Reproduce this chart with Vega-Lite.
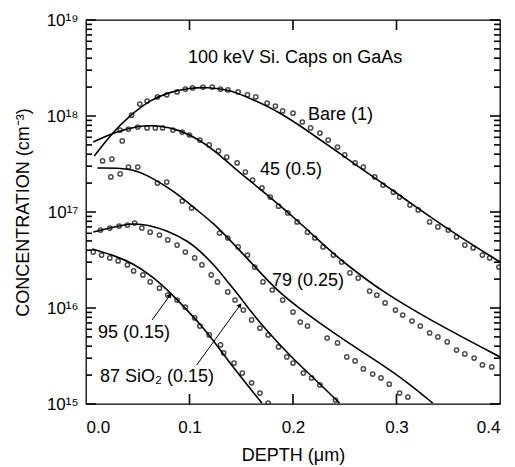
{
  "$schema": "https://vega.github.io/schema/vega-lite/v6.json",
  "width": 414,
  "height": 384,
  "autosize": {"type": "none"},
  "padding": {"left": 86, "top": 20, "right": 15, "bottom": 63},
  "background": "white",
  "config": {
    "view": {"stroke": "black", "strokeWidth": 1.3},
    "font": "Liberation Sans",
    "axis": {
      "grid": false,
      "ticks": false,
      "domain": false,
      "labelFont": "Liberation Sans",
      "labelFontSize": 17,
      "labelColor": "black",
      "titleFont": "Liberation Sans",
      "titleFontSize": 18,
      "titleFontWeight": "normal",
      "titleColor": "black"
    }
  },
  "datasets": {
    "fits": [
      {"sample": "Bare", "depth": 0.008, "conc": 3.83e17},
      {"sample": "Bare", "depth": 0.026, "conc": 6.8e17},
      {"sample": "Bare", "depth": 0.043, "conc": 1.02e18},
      {"sample": "Bare", "depth": 0.062, "conc": 1.47e18},
      {"sample": "Bare", "depth": 0.081, "conc": 1.78e18},
      {"sample": "Bare", "depth": 0.100, "conc": 1.96e18},
      {"sample": "Bare", "depth": 0.117, "conc": 2.0e18},
      {"sample": "Bare", "depth": 0.139, "conc": 1.87e18},
      {"sample": "Bare", "depth": 0.158, "conc": 1.54e18},
      {"sample": "Bare", "depth": 0.187, "conc": 1.10e18},
      {"sample": "Bare", "depth": 0.216, "conc": 6.8e17},
      {"sample": "Bare", "depth": 0.265, "conc": 2.87e17},
      {"sample": "Bare", "depth": 0.303, "conc": 1.50e17},
      {"sample": "Bare", "depth": 0.349, "conc": 6.65e16},
      {"sample": "Bare", "depth": 0.400, "conc": 3.01e16},
      {"sample": "45", "depth": 0.007, "conc": 5.36e17},
      {"sample": "45", "depth": 0.026, "conc": 6.65e17},
      {"sample": "45", "depth": 0.049, "conc": 7.87e17},
      {"sample": "45", "depth": 0.069, "conc": 8.05e17},
      {"sample": "45", "depth": 0.091, "conc": 7.14e17},
      {"sample": "45", "depth": 0.110, "conc": 5.62e17},
      {"sample": "45", "depth": 0.127, "conc": 4.12e17},
      {"sample": "45", "depth": 0.142, "conc": 2.94e17},
      {"sample": "45", "depth": 0.168, "conc": 1.74e17},
      {"sample": "45", "depth": 0.204, "conc": 8.26e16},
      {"sample": "45", "depth": 0.236, "conc": 3.90e16},
      {"sample": "45", "depth": 0.255, "conc": 2.67e16},
      {"sample": "45", "depth": 0.284, "conc": 1.54e16},
      {"sample": "45", "depth": 0.332, "conc": 7.5e15},
      {"sample": "45", "depth": 0.400, "conc": 3.09e15},
      {"sample": "79", "depth": 0.011, "conc": 2.87e17},
      {"sample": "79", "depth": 0.043, "conc": 2.87e17},
      {"sample": "79", "depth": 0.059, "conc": 2.43e17},
      {"sample": "79", "depth": 0.084, "conc": 1.69e17},
      {"sample": "79", "depth": 0.107, "conc": 1.05e17},
      {"sample": "79", "depth": 0.123, "conc": 7.67e16},
      {"sample": "79", "depth": 0.139, "conc": 5.11e16},
      {"sample": "79", "depth": 0.158, "conc": 3.09e16},
      {"sample": "79", "depth": 0.175, "conc": 1.96e16},
      {"sample": "79", "depth": 0.190, "conc": 1.36e16},
      {"sample": "79", "depth": 0.207, "conc": 9.77e15},
      {"sample": "79", "depth": 0.223, "conc": 7.32e15},
      {"sample": "79", "depth": 0.255, "conc": 4.22e15},
      {"sample": "79", "depth": 0.284, "conc": 2.67e15},
      {"sample": "79", "depth": 0.313, "conc": 1.61e15},
      {"sample": "79", "depth": 0.335, "conc": 1.02e15},
      {"sample": "87", "depth": 0.007, "conc": 6.19e16},
      {"sample": "87", "depth": 0.026, "conc": 6.98e16},
      {"sample": "87", "depth": 0.047, "conc": 7.67e16},
      {"sample": "87", "depth": 0.059, "conc": 7.32e16},
      {"sample": "87", "depth": 0.078, "conc": 6.49e16},
      {"sample": "87", "depth": 0.100, "conc": 4.87e16},
      {"sample": "87", "depth": 0.110, "conc": 3.93e16},
      {"sample": "87", "depth": 0.123, "conc": 2.87e16},
      {"sample": "87", "depth": 0.137, "conc": 1.87e16},
      {"sample": "87", "depth": 0.149, "conc": 1.30e16},
      {"sample": "87", "depth": 0.158, "conc": 9.53e15},
      {"sample": "87", "depth": 0.175, "conc": 5.75e15},
      {"sample": "87", "depth": 0.200, "conc": 2.94e15},
      {"sample": "87", "depth": 0.223, "conc": 1.74e15},
      {"sample": "87", "depth": 0.245, "conc": 1.02e15},
      {"sample": "95", "depth": 0.006, "conc": 4.12e16},
      {"sample": "95", "depth": 0.026, "conc": 3.56e16},
      {"sample": "95", "depth": 0.045, "conc": 2.94e16},
      {"sample": "95", "depth": 0.065, "conc": 2.10e16},
      {"sample": "95", "depth": 0.084, "conc": 1.36e16},
      {"sample": "95", "depth": 0.103, "conc": 8.26e15},
      {"sample": "95", "depth": 0.110, "conc": 6.81e15},
      {"sample": "95", "depth": 0.125, "conc": 4.32e15},
      {"sample": "95", "depth": 0.139, "conc": 2.67e15},
      {"sample": "95", "depth": 0.170, "conc": 1.02e15}
    ],
    "measured": [
      {"sample": "Bare", "depth": 0.016, "conc": 3.40e17},
      {"sample": "Bare", "depth": 0.025, "conc": 3.56e17},
      {"sample": "Bare", "depth": 0.035, "conc": 5.50e17},
      {"sample": "Bare", "depth": 0.044, "conc": 1.02e18},
      {"sample": "Bare", "depth": 0.052, "conc": 1.33e18},
      {"sample": "Bare", "depth": 0.059, "conc": 1.43e18},
      {"sample": "Bare", "depth": 0.069, "conc": 1.58e18},
      {"sample": "Bare", "depth": 0.078, "conc": 1.66e18},
      {"sample": "Bare", "depth": 0.088, "conc": 1.78e18},
      {"sample": "Bare", "depth": 0.096, "conc": 1.91e18},
      {"sample": "Bare", "depth": 0.103, "conc": 1.96e18},
      {"sample": "Bare", "depth": 0.113, "conc": 2.00e18},
      {"sample": "Bare", "depth": 0.122, "conc": 2.00e18},
      {"sample": "Bare", "depth": 0.130, "conc": 1.91e18},
      {"sample": "Bare", "depth": 0.137, "conc": 1.87e18},
      {"sample": "Bare", "depth": 0.147, "conc": 1.78e18},
      {"sample": "Bare", "depth": 0.156, "conc": 1.66e18},
      {"sample": "Bare", "depth": 0.164, "conc": 1.58e18},
      {"sample": "Bare", "depth": 0.175, "conc": 1.36e18},
      {"sample": "Bare", "depth": 0.183, "conc": 1.27e18},
      {"sample": "Bare", "depth": 0.190, "conc": 1.13e18},
      {"sample": "Bare", "depth": 0.200, "conc": 1.07e18},
      {"sample": "Bare", "depth": 0.209, "conc": 8.66e17},
      {"sample": "Bare", "depth": 0.217, "conc": 7.50e17},
      {"sample": "Bare", "depth": 0.226, "conc": 6.65e17},
      {"sample": "Bare", "depth": 0.234, "conc": 5.62e17},
      {"sample": "Bare", "depth": 0.243, "conc": 4.75e17},
      {"sample": "Bare", "depth": 0.250, "conc": 3.93e17},
      {"sample": "Bare", "depth": 0.260, "conc": 3.24e17},
      {"sample": "Bare", "depth": 0.268, "conc": 2.94e17},
      {"sample": "Bare", "depth": 0.279, "conc": 2.32e17},
      {"sample": "Bare", "depth": 0.287, "conc": 1.91e17},
      {"sample": "Bare", "depth": 0.297, "conc": 1.61e17},
      {"sample": "Bare", "depth": 0.303, "conc": 1.43e17},
      {"sample": "Bare", "depth": 0.313, "conc": 1.18e17},
      {"sample": "Bare", "depth": 0.321, "conc": 1.05e17},
      {"sample": "Bare", "depth": 0.332, "conc": 7.87e16},
      {"sample": "Bare", "depth": 0.340, "conc": 6.98e16},
      {"sample": "Bare", "depth": 0.350, "conc": 6.49e16},
      {"sample": "Bare", "depth": 0.358, "conc": 5.50e16},
      {"sample": "Bare", "depth": 0.366, "conc": 4.53e16},
      {"sample": "Bare", "depth": 0.374, "conc": 4.22e16},
      {"sample": "Bare", "depth": 0.383, "conc": 3.56e16},
      {"sample": "Bare", "depth": 0.390, "conc": 3.32e16},
      {"sample": "Bare", "depth": 0.399, "conc": 2.67e16},
      {"sample": "45", "depth": 0.033, "conc": 7.14e17},
      {"sample": "45", "depth": 0.041, "conc": 7.32e17},
      {"sample": "45", "depth": 0.050, "conc": 7.67e17},
      {"sample": "45", "depth": 0.059, "conc": 7.50e17},
      {"sample": "45", "depth": 0.067, "conc": 7.50e17},
      {"sample": "45", "depth": 0.074, "conc": 7.50e17},
      {"sample": "45", "depth": 0.084, "conc": 7.14e17},
      {"sample": "45", "depth": 0.093, "conc": 6.81e17},
      {"sample": "45", "depth": 0.100, "conc": 6.34e17},
      {"sample": "45", "depth": 0.110, "conc": 5.62e17},
      {"sample": "45", "depth": 0.119, "conc": 4.99e17},
      {"sample": "45", "depth": 0.128, "conc": 4.32e17},
      {"sample": "45", "depth": 0.136, "conc": 3.74e17},
      {"sample": "45", "depth": 0.146, "conc": 3.24e17},
      {"sample": "45", "depth": 0.154, "conc": 2.61e17},
      {"sample": "45", "depth": 0.161, "conc": 2.15e17},
      {"sample": "45", "depth": 0.170, "conc": 1.78e17},
      {"sample": "45", "depth": 0.178, "conc": 1.43e17},
      {"sample": "45", "depth": 0.186, "conc": 1.15e17},
      {"sample": "45", "depth": 0.195, "conc": 9.77e16},
      {"sample": "45", "depth": 0.204, "conc": 7.87e16},
      {"sample": "45", "depth": 0.214, "conc": 6.17e16},
      {"sample": "45", "depth": 0.221, "conc": 5.36e16},
      {"sample": "45", "depth": 0.229, "conc": 4.32e16},
      {"sample": "45", "depth": 0.239, "conc": 3.56e16},
      {"sample": "45", "depth": 0.247, "conc": 3.01e16},
      {"sample": "45", "depth": 0.255, "conc": 2.32e16},
      {"sample": "45", "depth": 0.263, "conc": 2.05e16},
      {"sample": "45", "depth": 0.274, "conc": 1.50e16},
      {"sample": "45", "depth": 0.281, "conc": 1.36e16},
      {"sample": "45", "depth": 0.289, "conc": 1.13e16},
      {"sample": "45", "depth": 0.299, "conc": 9.53e15},
      {"sample": "45", "depth": 0.306, "conc": 8.45e15},
      {"sample": "45", "depth": 0.315, "conc": 7.32e15},
      {"sample": "45", "depth": 0.323, "conc": 6.49e15},
      {"sample": "45", "depth": 0.332, "conc": 5.50e15},
      {"sample": "45", "depth": 0.340, "conc": 4.99e15},
      {"sample": "45", "depth": 0.349, "conc": 4.43e15},
      {"sample": "45", "depth": 0.358, "conc": 3.65e15},
      {"sample": "45", "depth": 0.366, "conc": 3.32e15},
      {"sample": "45", "depth": 0.375, "conc": 3.01e15},
      {"sample": "45", "depth": 0.383, "conc": 2.55e15},
      {"sample": "45", "depth": 0.392, "conc": 2.43e15},
      {"sample": "79", "depth": 0.024, "conc": 2.32e17},
      {"sample": "79", "depth": 0.033, "conc": 2.49e17},
      {"sample": "79", "depth": 0.041, "conc": 2.94e17},
      {"sample": "79", "depth": 0.050, "conc": 2.94e17},
      {"sample": "79", "depth": 0.069, "conc": 2.00e17},
      {"sample": "79", "depth": 0.078, "conc": 2.05e17},
      {"sample": "79", "depth": 0.093, "conc": 1.30e17},
      {"sample": "79", "depth": 0.102, "conc": 1.10e17},
      {"sample": "79", "depth": 0.129, "conc": 6.04e16},
      {"sample": "79", "depth": 0.137, "conc": 5.36e16},
      {"sample": "79", "depth": 0.147, "conc": 4.32e16},
      {"sample": "79", "depth": 0.156, "conc": 3.56e16},
      {"sample": "79", "depth": 0.163, "conc": 2.67e16},
      {"sample": "79", "depth": 0.171, "conc": 1.87e16},
      {"sample": "79", "depth": 0.180, "conc": 1.54e16},
      {"sample": "79", "depth": 0.190, "conc": 1.21e16},
      {"sample": "79", "depth": 0.200, "conc": 9.08e15},
      {"sample": "79", "depth": 0.207, "conc": 7.14e15},
      {"sample": "79", "depth": 0.214, "conc": 6.49e15},
      {"sample": "79", "depth": 0.233, "conc": 4.87e15},
      {"sample": "79", "depth": 0.243, "conc": 4.32e15},
      {"sample": "79", "depth": 0.252, "conc": 3.09e15},
      {"sample": "79", "depth": 0.260, "conc": 2.81e15},
      {"sample": "79", "depth": 0.268, "conc": 2.32e15},
      {"sample": "79", "depth": 0.277, "conc": 2.05e15},
      {"sample": "79", "depth": 0.285, "conc": 1.87e15},
      {"sample": "79", "depth": 0.293, "conc": 1.61e15},
      {"sample": "79", "depth": 0.303, "conc": 1.30e15},
      {"sample": "79", "depth": 0.311, "conc": 1.18e15},
      {"sample": "87", "depth": 0.014, "conc": 6.49e16},
      {"sample": "87", "depth": 0.023, "conc": 6.81e16},
      {"sample": "87", "depth": 0.032, "conc": 7.14e16},
      {"sample": "87", "depth": 0.040, "conc": 7.32e16},
      {"sample": "87", "depth": 0.047, "conc": 7.67e16},
      {"sample": "87", "depth": 0.054, "conc": 6.81e16},
      {"sample": "87", "depth": 0.062, "conc": 6.17e16},
      {"sample": "87", "depth": 0.071, "conc": 5.75e16},
      {"sample": "87", "depth": 0.079, "conc": 5.11e16},
      {"sample": "87", "depth": 0.088, "conc": 4.53e16},
      {"sample": "87", "depth": 0.096, "conc": 3.83e16},
      {"sample": "87", "depth": 0.105, "conc": 3.32e16},
      {"sample": "87", "depth": 0.112, "conc": 2.81e16},
      {"sample": "87", "depth": 0.121, "conc": 2.21e16},
      {"sample": "87", "depth": 0.127, "conc": 1.87e16},
      {"sample": "87", "depth": 0.137, "conc": 1.47e16},
      {"sample": "87", "depth": 0.144, "conc": 1.21e16},
      {"sample": "87", "depth": 0.152, "conc": 9.53e15},
      {"sample": "87", "depth": 0.160, "conc": 7.50e15},
      {"sample": "87", "depth": 0.168, "conc": 6.17e15},
      {"sample": "87", "depth": 0.176, "conc": 5.24e15},
      {"sample": "87", "depth": 0.186, "conc": 3.93e15},
      {"sample": "87", "depth": 0.194, "conc": 3.09e15},
      {"sample": "87", "depth": 0.200, "conc": 2.67e15},
      {"sample": "87", "depth": 0.210, "conc": 2.10e15},
      {"sample": "87", "depth": 0.218, "conc": 1.87e15},
      {"sample": "87", "depth": 0.226, "conc": 1.58e15},
      {"sample": "87", "depth": 0.241, "conc": 1.10e15},
      {"sample": "95", "depth": 0.007, "conc": 3.83e16},
      {"sample": "95", "depth": 0.015, "conc": 3.56e16},
      {"sample": "95", "depth": 0.023, "conc": 3.32e16},
      {"sample": "95", "depth": 0.031, "conc": 3.09e16},
      {"sample": "95", "depth": 0.040, "conc": 2.81e16},
      {"sample": "95", "depth": 0.046, "conc": 2.43e16},
      {"sample": "95", "depth": 0.055, "conc": 2.21e16},
      {"sample": "95", "depth": 0.062, "conc": 1.87e16},
      {"sample": "95", "depth": 0.071, "conc": 1.61e16},
      {"sample": "95", "depth": 0.079, "conc": 1.36e16},
      {"sample": "95", "depth": 0.088, "conc": 1.21e16},
      {"sample": "95", "depth": 0.096, "conc": 1.02e16},
      {"sample": "95", "depth": 0.105, "conc": 7.87e15},
      {"sample": "95", "depth": 0.110, "conc": 6.49e15},
      {"sample": "95", "depth": 0.119, "conc": 5.24e15},
      {"sample": "95", "depth": 0.130, "conc": 4.12e15},
      {"sample": "95", "depth": 0.133, "conc": 3.40e15},
      {"sample": "95", "depth": 0.143, "conc": 2.67e15},
      {"sample": "95", "depth": 0.151, "conc": 2.10e15},
      {"sample": "95", "depth": 0.160, "conc": 1.66e15},
      {"sample": "95", "depth": 0.168, "conc": 1.30e15},
      {"sample": "95", "depth": 0.176, "conc": 1.02e15}
    ],
    "labels": [
      {"text": "100 keV Si. Caps on GaAs", "depth": 0.0986, "conc": 4.02e18},
      {"text": "Bare (1)", "depth": 0.2145, "conc": 1.02e18},
      {"text": "45 (0.5)", "depth": 0.168, "conc": 2.74e17},
      {"text": "79 (0.25)", "depth": 0.1797, "conc": 1.91e16},
      {"text": "95 (0.15)", "depth": 0.0116, "conc": 5.5e15},
      {"text": "87 SiO₂ (0.15)", "depth": 0.0135, "conc": 1.91e15}
    ],
    "arrows": [
      {"label": "95", "depth": 0.0638, "conc": 7.5e15, "depth_tip": 0.0812, "conc_tip": 1.36e16},
      {"label": "87", "depth": 0.107, "conc": 2.55e15, "depth_tip": 0.1488, "conc_tip": 1.07e16}
    ],
    "ymajor": [
      {"conc": 1e15}, {"conc": 1e16}, {"conc": 1e17}, {"conc": 1e18}, {"conc": 1e19}
    ],
    "yminor": [
      {"conc": 2e15}, {"conc": 3e15}, {"conc": 4e15}, {"conc": 5e15}, {"conc": 6e15}, {"conc": 7e15}, {"conc": 8e15}, {"conc": 9e15},
      {"conc": 2e16}, {"conc": 3e16}, {"conc": 4e16}, {"conc": 5e16}, {"conc": 6e16}, {"conc": 7e16}, {"conc": 8e16}, {"conc": 9e16},
      {"conc": 2e17}, {"conc": 3e17}, {"conc": 4e17}, {"conc": 5e17}, {"conc": 6e17}, {"conc": 7e17}, {"conc": 8e17}, {"conc": 9e17},
      {"conc": 2e18}, {"conc": 3e18}, {"conc": 4e18}, {"conc": 5e18}, {"conc": 6e18}, {"conc": 7e18}, {"conc": 8e18}, {"conc": 9e18}
    ],
    "xticks": [
      {"depth": 0.1}, {"depth": 0.2}, {"depth": 0.3}
    ]
  },
  "layer": [
    {
      "data": {"name": "fits"},
      "mark": {"type": "line", "color": "black", "strokeWidth": 1.6, "interpolate": "basis", "clip": true},
      "encoding": {
        "x": {"field": "depth", "type": "quantitative", "scale": {"domain": [0, 0.4]},
          "axis": {"orient": "bottom", "values": [0, 0.1, 0.2, 0.3, 0.4], "format": ".1f", "labelPadding": 15, "title": "DEPTH (μm)", "titlePadding": 11}},
        "y": {"field": "conc", "type": "quantitative", "scale": {"type": "log", "domain": [1e15, 1e19]},
          "axis": {"orient": "left",
            "values": [1e15, 1e16, 1e17, 1e18, 1e19],
            "labelExpr": "datum.value == 1e15 ? '10¹⁵' : datum.value == 1e16 ? '10¹⁶' : datum.value == 1e17 ? '10¹⁷' : datum.value == 1e18 ? '10¹⁸' : '10¹⁹'",
            "labelPadding": 8,
            "labelFontSize": 17,
            "title": "CONCENTRATION (cm⁻³)",
            "titlePadding": 14}},
        "detail": {"field": "sample"}
      }
    },
    {
      "data": {"name": "measured"},
      "mark": {"type": "point", "shape": "circle", "color": "black", "filled": false, "size": 18, "strokeWidth": 1.5, "clip": true},
      "encoding": {
        "x": {"field": "depth", "type": "quantitative"},
        "y": {"field": "conc", "type": "quantitative"}
      }
    },
    {
      "data": {"name": "ymajor"},
      "mark": {"type": "tick", "orient": "horizontal", "color": "black", "thickness": 1.6, "size": 10, "opacity": 1},
      "encoding": {"x": {"datum": 0.00483, "type": "quantitative"}, "y": {"field": "conc", "type": "quantitative"}}
    },
    {
      "data": {"name": "yminor"},
      "mark": {"type": "tick", "orient": "horizontal", "color": "black", "thickness": 1.6, "size": 6, "opacity": 1},
      "encoding": {"x": {"datum": 0.0029, "type": "quantitative"}, "y": {"field": "conc", "type": "quantitative"}}
    },
    {
      "data": {"name": "ymajor"},
      "mark": {"type": "tick", "orient": "horizontal", "color": "black", "thickness": 1.6, "size": 10, "opacity": 1},
      "encoding": {"x": {"datum": 0.39517, "type": "quantitative"}, "y": {"field": "conc", "type": "quantitative"}}
    },
    {
      "data": {"name": "yminor"},
      "mark": {"type": "tick", "orient": "horizontal", "color": "black", "thickness": 1.6, "size": 6, "opacity": 1},
      "encoding": {"x": {"datum": 0.3971, "type": "quantitative"}, "y": {"field": "conc", "type": "quantitative"}}
    },
    {
      "data": {"name": "xticks"},
      "mark": {"type": "tick", "orient": "vertical", "color": "black", "thickness": 1.6, "size": 10, "opacity": 1},
      "encoding": {"x": {"field": "depth", "type": "quantitative"}, "y": {"datum": 1.127e15, "type": "quantitative"}}
    },
    {
      "data": {"name": "xticks"},
      "mark": {"type": "tick", "orient": "vertical", "color": "black", "thickness": 1.6, "size": 10, "opacity": 1},
      "encoding": {"x": {"field": "depth", "type": "quantitative"}, "y": {"datum": 8.87e18, "type": "quantitative"}}
    },
    {
      "data": {"name": "labels"},
      "mark": {"type": "text", "align": "left", "baseline": "middle", "fontSize": 18, "font": "Liberation Sans", "color": "black"},
      "encoding": {
        "x": {"field": "depth", "type": "quantitative"},
        "y": {"field": "conc", "type": "quantitative"},
        "text": {"field": "text"}
      }
    },
    {
      "data": {"name": "arrows"},
      "mark": {"type": "rule", "color": "black", "strokeWidth": 1},
      "encoding": {
        "x": {"field": "depth", "type": "quantitative"},
        "y": {"field": "conc", "type": "quantitative"},
        "x2": {"field": "depth_tip"},
        "y2": {"field": "conc_tip"}
      }
    },
    {
      "data": {"name": "arrows"},
      "mark": {"type": "point", "shape": "triangle-up", "filled": true, "color": "black", "size": 28, "angle": 36, "opacity": 1},
      "encoding": {
        "x": {"field": "depth_tip", "type": "quantitative"},
        "y": {"field": "conc_tip", "type": "quantitative"}
      }
    }
  ]
}
